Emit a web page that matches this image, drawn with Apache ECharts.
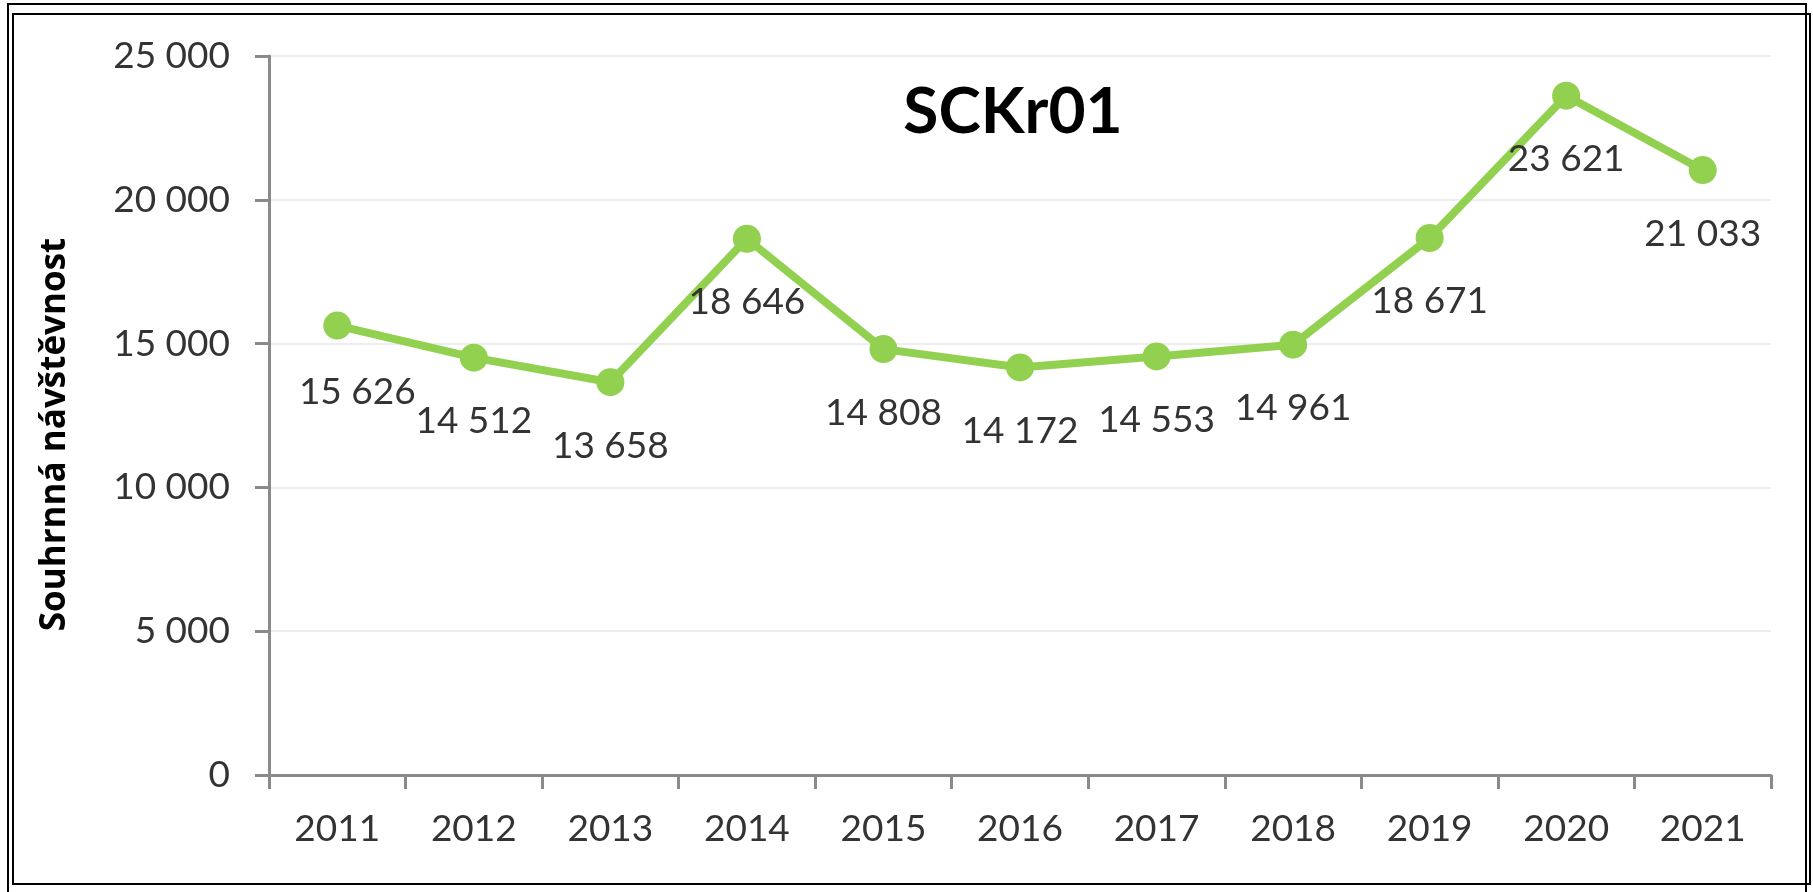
<!DOCTYPE html>
<html>
<head>
<meta charset="utf-8">
<script src="https://cdn.jsdelivr.net/npm/echarts@6/dist/echarts.min.js"></script>
<style>
html,body{margin:0;padding:0;background:#fff;}
#chart{width:1813px;height:892px;}
</style>
</head>
<body>
<div id="chart"></div>
<script>
const years = ['2011','2012','2013','2014','2015','2016','2017','2018','2019','2020','2021'];
const visits = [15626, 14512, 13658, 18646, 14808, 14172, 14553, 14961, 18671, 23621, 21033];
const yTicks = [0, 5000, 10000, 15000, 20000, 25000];
const chartTitle = 'SCKr01';
const yAxisTitle = 'Souhrnná návštěvnost';

function fmt(v){
  return String(v).replace(/\B(?=(\d{3})+(?!\d))/g, ' ');
}

const FONT = 'Lato';
const TXT = '#333333';

const chart = echarts.init(document.getElementById('chart'), null, {renderer:'canvas'});
chart.setOption({
  animation:false,
  backgroundColor:'#ffffff',
  title:{
    text: chartTitle,
    left: 1008, top: 75, textAlign:'center',
    textStyle:{fontFamily:FONT, fontWeight:'bold', fontSize:64, color:'#000'}
  },
  grid:{left:269, right:42, top:56, bottom:117, containLabel:false},
  xAxis:{
    type:'category', data: years, boundaryGap:true,
    axisLine:{lineStyle:{color:'#8a8a8a', width:3}},
    axisTick:{show:true, alignWithLabel:false, length:14, lineStyle:{color:'#8a8a8a', width:3}},
    axisLabel:{fontFamily:FONT, fontSize:37, color:TXT, margin:36},
    splitLine:{show:false}
  },
  yAxis:{
    type:'value', min:yTicks[0], max:yTicks[yTicks.length-1], interval:yTicks[1]-yTicks[0],
    name: yAxisTitle, nameLocation:'middle', nameRotate:90, nameGap:196,
    nameTextStyle:{fontFamily:'Open Sans', fontWeight:'bold', fontSize:35, color:'#000', padding:[0,38,0,0]},
    axisLine:{show:true, lineStyle:{color:'#8a8a8a', width:3}},
    axisTick:{show:true, length:14, lineStyle:{color:'#8a8a8a', width:3}},
    axisLabel:{fontFamily:FONT, fontSize:37, color:TXT, margin:39, formatter:(v)=>fmt(v)},
    splitLine:{show:true, lineStyle:{color:'#eeeeee', width:2}}
  },
  graphic:[
    {type:'rect', shape:{x:8, y:4, width:1798, height:950}, style:{fill:null, stroke:'#000', lineWidth:2}, z:100},
    {type:'rect', shape:{x:13, y:14, width:1797, height:870}, style:{fill:null, stroke:'#000', lineWidth:2}, z:100}
  ],
  series:[{
    type:'line',
    data: visits.map((v,i)=> i===0 ? {value:v, label:{offset:[20,3]}} : v),
    symbol:'circle', symbolSize:28,
    lineStyle:{color:'#92D050', width:8},
    itemStyle:{color:'#92D050'},
    label:{show:true, position:'bottom', distance:31, fontFamily:FONT, fontSize:37, color:TXT, formatter:(p)=>fmt(p.value)}
  }]
});
</script>
</body>
</html>
